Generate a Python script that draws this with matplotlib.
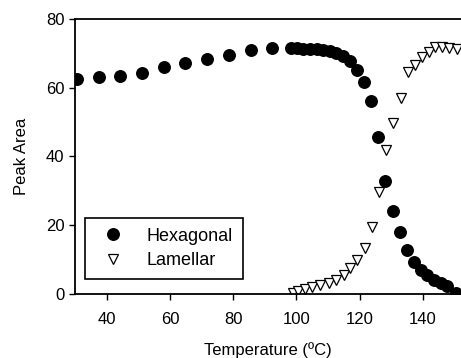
import matplotlib
matplotlib.use("Agg")
import matplotlib.pyplot as plt

plt.rcParams['font.family'] = ['Liberation Sans', 'DejaVu Sans']

hex_T = [30.6, 37.5, 44.3, 51.2, 58.1, 64.9, 71.8, 78.7, 85.6, 92.3,
         98.2, 100.2, 102.2, 104.3, 106.4, 108.4, 110.5, 112.6, 114.7, 116.8,
         119.0, 121.2, 123.4, 125.7, 128.0, 130.4, 132.7, 135.0, 137.1, 139.3,
         141.4, 143.5, 145.6, 147.7, 150.5]
hex_V = [62.5, 63.0, 63.5, 64.4, 65.9, 67.3, 68.4, 69.5, 71.0, 71.5,
         71.5, 71.5, 71.4, 71.3, 71.2, 71.0, 70.6, 70.0, 69.3, 67.8,
         65.2, 61.7, 56.1, 45.6, 33.0, 24.1, 17.9, 12.8, 9.4, 7.0,
         5.6, 4.1, 3.2, 2.3, 0.4]

lam_T = [99.0, 100.6, 102.8, 104.9, 107.5, 110.2, 112.5, 114.9, 117.0, 119.1,
         121.6, 123.9, 126.0, 128.2, 130.5, 132.9, 135.3, 137.5, 139.8, 141.9,
         143.8, 145.9, 148.3, 150.6]
lam_V = [0.4, 1.0, 1.5, 2.1, 2.6, 3.3, 4.1, 5.5, 7.5, 9.9,
         13.3, 19.6, 29.8, 41.9, 49.7, 56.9, 64.7, 66.6, 69.0, 70.5,
         71.9, 71.9, 71.5, 71.2]

xticks = [40, 60, 80, 100, 120, 140]
yticks = [0, 20, 40, 60, 80]

fig = plt.figure(figsize=(4.61, 3.58), dpi=100)
ax = fig.add_axes([75/461, 1 - 294/358, (461-75)/461, (294-19)/358])

ax.plot(hex_T, hex_V, linestyle='none', marker='o', markersize=8.3,
        markerfacecolor='black', markeredgecolor='black', label='Hexagonal')
ax.plot(lam_T, lam_V, linestyle='none', marker='v', markersize=7.5,
        markerfacecolor='white', markeredgecolor='black', markeredgewidth=0.9,
        label='Lamellar')

ax.set_xlim(30, 152)
ax.set_ylim(0, 80)
ax.set_xticks(xticks)
ax.set_yticks(yticks)
ax.tick_params(direction='out', length=4, width=1, labelsize=12, colors='black')
ax.tick_params(axis='x', pad=9)
for s in ['left', 'bottom', 'top']:
    ax.spines[s].set_linewidth(1.3)
ax.spines['right'].set_visible(False)

ax.set_xlabel('Temperature (ºC)', fontsize=12, labelpad=11)
ax.set_ylabel('Peak Area', fontsize=12, labelpad=12)

leg = ax.legend(loc='lower left', bbox_to_anchor=(0.025, 0.055), fontsize=13,
                fancybox=False, edgecolor='black', framealpha=1,
                handletextpad=0.9, borderpad=0.55, labelspacing=0.4,
                borderaxespad=0)
leg.get_frame().set_linewidth(1.2)

fig.savefig('out.png', dpi=100)
